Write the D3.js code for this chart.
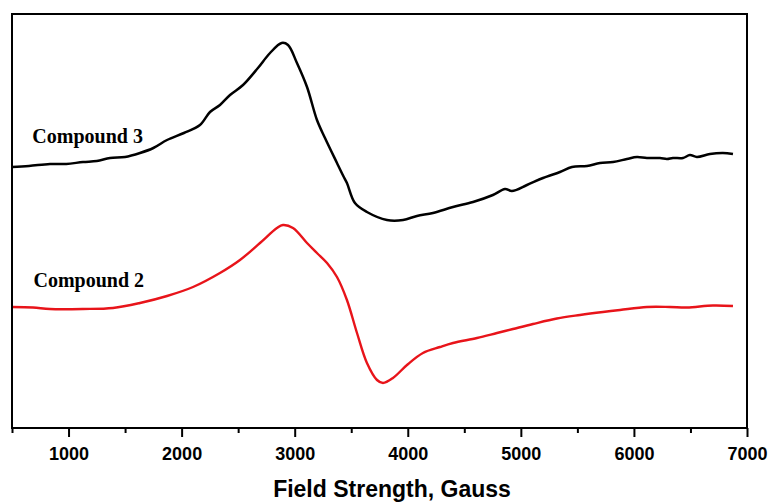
<!DOCTYPE html>
<html>
<head>
<meta charset="utf-8">
<script src="https://cdn.jsdelivr.net/npm/d3@7"></script>
<style>
  html, body { margin: 0; padding: 0; background: #fff; }
  svg { display: block; }
</style>
</head>
<body>
<svg id="chart" width="771" height="502"></svg>
<script>
// EPR spectra: field (Gauss) vs. derivative intensity (arbitrary units, offset per trace)
const compound3Field = [500, 650, 836, 980, 1128, 1250, 1367, 1500, 1632, 1750, 1871, 2020, 2162, 2251, 2339, 2428, 2543, 2675, 2782, 2885, 2941, 3020, 3109, 3197, 3268, 3374, 3430, 3462, 3533, 3639, 3816, 3958, 4081, 4223, 4400, 4577, 4753, 4860, 4921, 5054, 5196, 5346, 5452, 5585, 5700, 5815, 5938, 6027, 6115, 6230, 6292, 6345, 6434, 6495, 6557, 6672, 6787, 6876];
const compound3Signal = [261, 262, 264, 264, 266, 267, 270, 271, 275, 280, 288, 295, 303, 316, 323, 333, 343, 360, 375, 385, 383, 365, 341, 308, 290, 265, 252, 245, 225, 216, 208, 208, 212, 215, 221, 226, 233, 239, 237, 243, 250, 256, 261, 262, 265, 266, 269, 271, 270, 270, 269, 270, 270, 273, 271, 274, 275, 274];

const compound2Field = [500, 686, 836, 1128, 1393, 1632, 1871, 2101, 2339, 2516, 2693, 2843, 2896, 2985, 3109, 3197, 3286, 3374, 3462, 3551, 3639, 3728, 3781, 3869, 3993, 4134, 4285, 4400, 4612, 4789, 4930, 5107, 5319, 5523, 5726, 5877, 6115, 6319, 6469, 6699, 6876];
const compound2Signal = [121, 120.5, 119, 119, 120, 125, 132, 141, 155, 168, 185, 200, 203, 200, 185, 175, 165, 151, 128, 95, 65, 48, 45, 50, 63, 75, 81, 85, 90, 95, 99, 104, 109.5, 113, 116, 118, 121, 121, 120.5, 122.5, 122];

const majorTicks = [1000, 2000, 3000, 4000, 5000, 6000, 7000];
const minorTicks = [500, 1500, 2500, 3500, 4500, 5500, 6500];

const seriesLabels = [
  { text: "Compound 3", field: 680, signal: 285 },
  { text: "Compound 2", field: 690, signal: 141 }
];

const xTitle = "Field Strength, Gauss";

const svg = d3.select("#chart");
const margin = { left: 12, top: 14, right: 24, bottom: 74 };
const W = 771, H = 502;
const x0 = margin.left, x1 = W - margin.right;
const y0 = H - margin.bottom, y1 = margin.top;

const x = d3.scaleLinear().domain([500, 7000]).range([x0, x1]);
const y = d3.scaleLinear().domain([0, 414]).range([y0, y1]);

// traces
const line = d3.line()
  .x(d => x(d[0]))
  .y(d => y(d[1]))
  .curve(d3.curveCatmullRom.alpha(0.5));

svg.append("path")
  .datum(d3.zip(compound2Field, compound2Signal))
  .attr("d", line)
  .attr("fill", "none")
  .attr("stroke", "#e8141a")
  .attr("stroke-width", 2.4)
  .attr("stroke-linejoin", "round");

svg.append("path")
  .datum(d3.zip(compound3Field, compound3Signal))
  .attr("d", line)
  .attr("fill", "none")
  .attr("stroke", "#000")
  .attr("stroke-width", 2.5)
  .attr("stroke-linejoin", "round");

// frame
svg.append("rect")
  .attr("x", x0).attr("y", y1)
  .attr("width", x1 - x0).attr("height", y0 - y1)
  .attr("fill", "none")
  .attr("stroke", "#000")
  .attr("stroke-width", 2);

// bottom axis: major ticks with labels, minor ticks without
const major = svg.append("g")
  .attr("transform", `translate(0,${y0})`)
  .call(d3.axisBottom(x).tickValues(majorTicks).tickSize(9).tickPadding(10).tickFormat(d3.format("d")));
const minor = svg.append("g")
  .attr("transform", `translate(0,${y0})`)
  .call(d3.axisBottom(x).tickValues(minorTicks).tickSize(5).tickFormat(""));

[major, minor].forEach(g => {
  g.select(".domain").remove();
  g.selectAll(".tick line").attr("stroke", "#000").attr("stroke-width", 2);
});
major.selectAll(".tick text")
  .attr("fill", "#000")
  .style("font-family", "'Liberation Sans', Arial, sans-serif")
  .style("font-weight", "bold")
  .style("font-size", "18px");

svg.append("text")
  .attr("x", 392)
  .attr("y", 497)
  .attr("text-anchor", "middle")
  .style("font-family", "'Liberation Sans', Arial, sans-serif")
  .style("font-weight", "bold")
  .style("font-size", "23px")
  .text(xTitle);

// series labels
svg.selectAll("text.series")
  .data(seriesLabels)
  .enter().append("text")
  .attr("class", "series")
  .attr("x", d => x(d.field))
  .attr("y", d => y(d.signal))
  .style("font-family", "'Liberation Serif', 'Times New Roman', serif")
  .style("font-weight", "bold")
  .style("font-size", "20px")
  .text(d => d.text);
</script>
</body>
</html>
